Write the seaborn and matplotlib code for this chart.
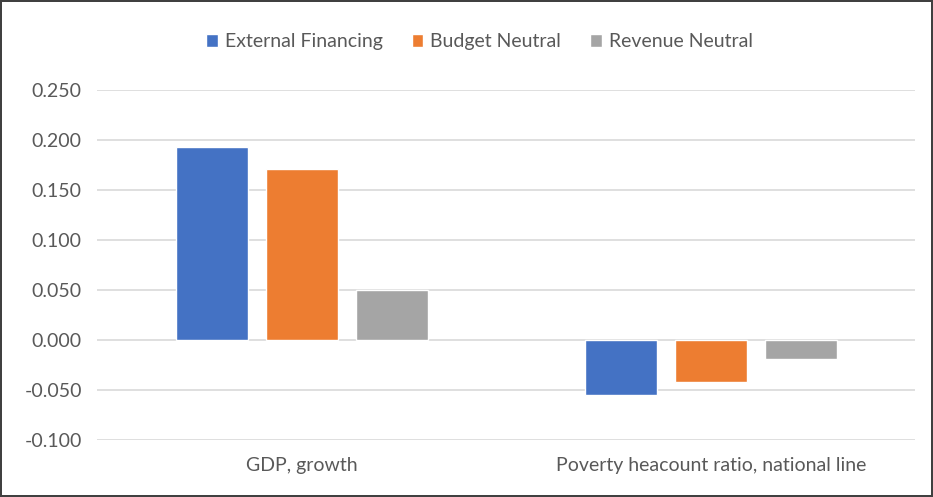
import matplotlib
matplotlib.use("Agg")
import matplotlib.pyplot as plt
import seaborn as sns
import pandas as pd
from matplotlib.ticker import FormatStrFormatter

categories = ["GDP, growth", "Poverty heacount ratio, national line"]
scenarios = ["External Financing", "Budget Neutral", "Revenue Neutral"]
external_financing = [0.193, -0.055]
budget_neutral = [0.171, -0.042]
revenue_neutral = [0.050, -0.019]
colors = ["#4472C4", "#ED7D31", "#A5A5A5"]

rows = []
for name, vals in zip(scenarios, [external_financing, budget_neutral, revenue_neutral]):
    for cat, v in zip(categories, vals):
        rows.append({"category": cat, "scenario": name, "value": v})
df = pd.DataFrame(rows)

sns.set_theme(style="white")
plt.rcParams["font.family"] = ["Lato", "DejaVu Sans"]

fig = plt.figure(figsize=(9.33, 4.97), dpi=100)
fig.patch.set_edgecolor("#404040")
fig.patch.set_linewidth(1.5)
ax = fig.add_axes([0.104, 0.1147, 0.877, 0.7042])

sns.barplot(data=df, x="category", y="value", hue="scenario",
            order=categories, hue_order=scenarios, palette=colors,
            width=0.66, gap=0.2, saturation=1, ax=ax, zorder=3)

ax.set_ylim(-0.1, 0.25)
ax.set_yticks([-0.1, -0.05, 0, 0.05, 0.1, 0.15, 0.2, 0.25])
ax.yaxis.set_major_formatter(FormatStrFormatter("%.3f"))
ax.grid(axis="y", color="#d9d9d9", linewidth=1.2, zorder=0)
ax.set_axisbelow(True)
for s in ax.spines.values():
    s.set_visible(False)
ax.set_xlabel("")
ax.set_ylabel("")
ax.tick_params(axis="both", length=0, labelsize=14, colors="#595959")
ax.tick_params(axis="y", pad=11)
ax.tick_params(axis="x", pad=12)

sns.move_legend(ax, "center", bbox_to_anchor=(0.514, 0.916),
                bbox_transform=fig.transFigure, ncol=3, frameon=False,
                title=None, fontsize=14, handlelength=0.6, handleheight=0.6,
                handletextpad=0.35, columnspacing=1.5)
for t in ax.get_legend().get_texts():
    t.set_color("#595959")

fig.savefig("out.png", dpi=100, edgecolor=fig.get_edgecolor())
